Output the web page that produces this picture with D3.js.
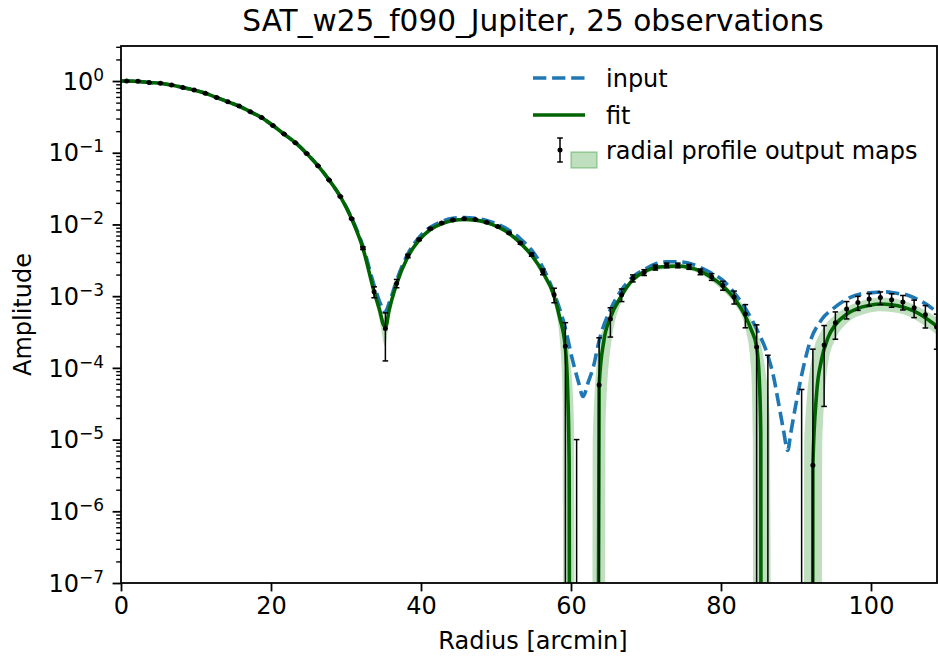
<!DOCTYPE html>
<html>
<head>
<meta charset="utf-8">
<script src="https://cdn.jsdelivr.net/npm/d3@7"></script>
<style>
  body { margin: 0; background: #fff; }
  text { font-family: "DejaVu Sans", sans-serif; fill: #000; }
</style>
</head>
<body>
<div id="chart"></div>
<script>
// radial profile points (mean of output maps) and their error
const dataR = [0.75, 2.25, 3.75, 5.25, 6.75, 8.25, 9.75, 11.25, 12.75, 14.25, 15.75, 17.25, 18.75, 20.25, 21.75, 23.25, 24.75, 26.25, 27.75, 29.25, 30.75, 32.25, 33.75, 35.25, 36.75, 38.25, 39.75, 41.25, 42.75, 44.25, 45.75, 47.25, 48.75, 50.25, 51.75, 53.25, 54.75, 56.25, 57.75, 59.25, 60.75, 62.25, 63.75, 65.25, 66.75, 68.25, 69.75, 71.25, 72.75, 74.25, 75.75, 77.25, 78.75, 80.25, 81.75, 83.25, 84.75, 86.25, 87.75, 89.25, 90.75, 92.25, 93.75, 95.25, 96.75, 98.25, 99.75, 101.25, 102.75, 104.25, 105.75, 107.25, 108.75];
const dataA = [1.0, 0.99, 0.955, 0.933, 0.879, 0.813, 0.750, 0.676, 0.589, 0.513, 0.447, 0.372, 0.309, 0.240, 0.182, 0.138, 0.0977, 0.0661, 0.0417, 0.0245, 0.0120, 4.68e-3, 1.15e-3, 3.55e-4, 1.51e-3, 3.63e-3, 6.17e-3, 8.71e-3, 1.05e-2, 1.15e-2, 1.20e-2, 1.17e-2, 1.07e-2, 9.33e-3, 7.59e-3, 5.50e-3, 3.80e-3, 2.19e-3, 1.05e-3, 2.0e-4, -1.9e-4, -3.0e-4, 5.75e-5, 4.79e-4, 1.05e-3, 1.78e-3, 2.14e-3, 2.51e-3, 2.69e-3, 2.69e-3, 2.57e-3, 2.19e-3, 1.86e-3, 1.41e-3, 9.77e-4, 5.62e-4, 1.95e-4, -5.0e-5, -3.0e-4, -3.0e-4, -1.5e-4, 4.4e-6, 2.09e-4, 4.27e-4, 6.61e-4, 8.13e-4, 9.12e-4, 9.55e-4, 8.91e-4, 8.32e-4, 6.92e-4, 5.50e-4, 3.72e-4];
const dataErr = [2e-4, 2e-4, 2e-4, 2e-4, 2e-4, 2e-4, 2e-4, 2e-4, 2e-4, 2e-4, 2e-4, 2e-4, 2e-4, 2e-4, 2e-4, 2e-4, 2e-4, 2e-4, 2e-4, 2e-4, 2e-4, 2e-4, 2e-4, 2.3e-4, 2e-4, 2e-4, 2e-4, 2e-4, 2e-4, 2e-4, 2e-4, 2e-4, 2e-4, 2e-4, 2e-4, 2e-4, 2e-4, 2e-4, 2.4e-4, 2.27e-4, 2.0e-4, 2.0e-4, 2.05e-4, 2.1e-4, 2.1e-4, 2e-4, 2e-4, 2e-4, 2e-4, 2e-4, 2e-4, 2e-4, 2e-4, 2e-4, 2e-4, 2.0e-4, 2.03e-4, 2.0e-4, 2.0e-4, 2.0e-4, 2.0e-4, 1.78e-4, 1.8e-4, 1.76e-4, 1.8e-4, 1.8e-4, 1.8e-4, 1.9e-4, 1.9e-4, 1.9e-4, 1.9e-4, 1.9e-4, 1.9e-4];

// input beam profile
const inputR = [0, 0.75, 2.25, 3.75, 5.25, 6.75, 8.25, 9.75, 11.25, 12.75, 14.25, 15.75, 17.25, 18.75, 20.25, 21.75, 23.25, 24.75, 26.25, 27.75, 29.25, 30.75, 32.25, 33.75, 34.5, 35.2, 35.8, 36.75, 38.25, 39.75, 41.25, 42.75, 44.25, 45.75, 47.25, 48.75, 50.25, 51.75, 53.25, 54.75, 56.25, 57.75, 59.25, 60.2, 61.0, 61.6, 62.3, 63.0, 63.75, 65.25, 66.75, 68.25, 69.75, 71.25, 72.75, 74.25, 75.75, 77.25, 78.75, 80.25, 81.75, 83.25, 84.75, 86.25, 87.0, 87.6, 88.3, 88.9, 89.3, 90.0, 90.9, 91.8, 93.4, 95.0, 97.0, 98.6, 100.2, 101.8, 103.4, 104.7, 106.3, 107.9, 109.2];
const inputA = [1.0, 1.0, 0.99, 0.955, 0.933, 0.879, 0.813, 0.750, 0.676, 0.589, 0.513, 0.447, 0.372, 0.309, 0.240, 0.182, 0.138, 0.0977, 0.0661, 0.0417, 0.0245, 0.0123, 5.01e-3, 1.41e-3, 8.32e-4, 6.03e-4, 8.32e-4, 1.66e-3, 3.89e-3, 6.61e-3, 9.12e-3, 1.10e-2, 1.22e-2, 1.245e-2, 1.22e-2, 1.135e-2, 1.0e-2, 8.32e-3, 6.31e-3, 4.37e-3, 2.51e-3, 1.10e-3, 3.55e-4, 1.29e-4, 6.31e-5, 3.98e-5, 6.31e-5, 1.05e-4, 2.40e-4, 6.46e-4, 1.23e-3, 1.86e-3, 2.34e-3, 2.82e-3, 3.02e-3, 3.02e-3, 2.88e-3, 2.51e-3, 2.09e-3, 1.66e-3, 1.12e-3, 6.76e-4, 3.47e-4, 1.48e-4, 7.59e-5, 3.55e-5, 1.41e-5, 7.08e-6, 1.23e-5, 3.16e-5, 9.33e-5, 2.19e-4, 4.68e-4, 6.76e-4, 9.33e-4, 1.07e-3, 1.12e-3, 1.15e-3, 1.10e-3, 1.05e-3, 8.91e-4, 7.08e-4, 5.50e-4];

// fitted profile (0 = non-positive)
const fitR = [0, 0.75, 2.25, 3.75, 5.25, 6.75, 8.25, 9.75, 11.25, 12.75, 14.25, 15.75, 17.25, 18.75, 20.25, 21.75, 23.25, 24.75, 26.25, 27.75, 29.25, 30.75, 32.25, 33.75, 34.5, 35.0, 35.3, 35.7, 36.75, 38.25, 39.75, 41.25, 42.75, 44.25, 45.75, 47.25, 48.75, 50.25, 51.75, 53.25, 54.75, 56.25, 57.75, 58.5, 59.25, 59.55, 59.75, 59.85, 63.55, 63.75, 64.4, 65.25, 66.75, 68.25, 69.75, 71.25, 72.75, 74.25, 75.75, 77.25, 78.75, 80.25, 81.75, 83.25, 84.0, 84.75, 85.1, 85.3, 85.36, 92.2, 92.25, 92.75, 93.4, 94.3, 95.25, 96.75, 98.25, 99.75, 101.25, 102.75, 104.25, 105.75, 107.25, 108.8];
const fitA = [1.0, 1.0, 0.99, 0.955, 0.933, 0.879, 0.813, 0.750, 0.676, 0.589, 0.513, 0.447, 0.372, 0.309, 0.240, 0.182, 0.138, 0.0977, 0.0661, 0.0417, 0.0245, 0.0120, 4.68e-3, 1.15e-3, 6.31e-4, 3.98e-4, 3.72e-4, 6.03e-4, 1.48e-3, 3.55e-3, 6.03e-3, 8.51e-3, 1.02e-2, 1.135e-2, 1.17e-2, 1.15e-2, 1.06e-2, 9.23e-3, 7.5e-3, 5.5e-3, 3.72e-3, 2.14e-3, 1.0e-3, 5.0e-4, 1.9e-4, 5.0e-5, 5.0e-6, 0, 0, 5.75e-5, 2.45e-4, 5.0e-4, 1.02e-3, 1.70e-3, 2.19e-3, 2.51e-3, 2.60e-3, 2.63e-3, 2.51e-3, 2.24e-3, 1.82e-3, 1.38e-3, 9.33e-4, 5.25e-4, 3.47e-4, 1.95e-4, 7.1e-5, 1.26e-5, 0, 0, 4.4e-6, 4.4e-5, 1.29e-4, 2.69e-4, 4.0e-4, 5.6e-4, 6.76e-4, 7.41e-4, 7.76e-4, 7.59e-4, 7.08e-4, 6.17e-4, 5.01e-4, 3.80e-4];

// spread of the output maps (shaded band)
const bandR = [0, 0.75, 2.25, 3.75, 5.25, 6.75, 8.25, 9.75, 11.25, 12.75, 14.25, 15.75, 17.25, 18.75, 20.25, 21.75, 23.25, 24.75, 26.25, 27.75, 29.25, 30.75, 32.25, 33.75, 34.5, 35.2, 35.7, 36.75, 38.25, 39.75, 41.25, 42.75, 44.25, 45.75, 47.25, 48.75, 50.25, 51.75, 53.25, 54.75, 56.25, 57.75, 58.5, 58.9, 59.0, 59.25, 60.0, 60.4, 60.6, 62.8, 62.9, 63.75, 64.5, 64.6, 65.25, 66.75, 68.25, 69.75, 71.25, 72.75, 74.25, 75.75, 77.25, 78.75, 80.25, 81.75, 83.25, 84.0, 84.25, 84.3, 84.75, 85.8, 86.5, 86.8, 91.0, 91.1, 92.25, 93.4, 93.5, 94.3, 95.25, 96.75, 98.25, 99.75, 101.25, 102.75, 104.25, 105.75, 107.25, 108.8];
const bandLo = [0.98, 0.98, 0.97, 0.935, 0.915, 0.86, 0.795, 0.735, 0.66, 0.575, 0.50, 0.436, 0.362, 0.30, 0.233, 0.176, 0.133, 0.094, 0.0635, 0.0399, 0.0233, 0.0113, 4.35e-3, 1.02e-3, 4.47e-4, 2.0e-4, 4.47e-4, 1.30e-3, 3.3e-3, 5.7e-3, 8.1e-3, 9.8e-3, 1.09e-2, 1.12e-2, 1.10e-2, 1.01e-2, 8.75e-3, 7.05e-3, 5.1e-3, 3.35e-3, 1.85e-3, 7.94e-4, 2.5e-4, 3.2e-5, 0, 0, 0, 0, 0, 0, 0, 0, 0, 1.5e-5, 1.8e-4, 8.5e-4, 1.52e-3, 2.0e-3, 2.3e-3, 2.40e-3, 2.42e-3, 2.3e-3, 2.03e-3, 1.62e-3, 1.18e-3, 7.94e-4, 3.55e-4, 1.0e-4, 1.0e-5, 0, 0, 0, 0, 0, 0, 0, 0, 0, 1.0e-5, 1.2e-4, 2.5e-4, 4.17e-4, 5.25e-4, 5.89e-4, 6.17e-4, 6.03e-4, 5.62e-4, 4.79e-4, 3.8e-4, 2.9e-4];
const bandHi = [1.02, 1.02, 1.01, 0.975, 0.95, 0.9, 0.83, 0.765, 0.69, 0.6, 0.525, 0.457, 0.38, 0.316, 0.246, 0.187, 0.142, 0.101, 0.0685, 0.0433, 0.0256, 0.0126, 4.95e-3, 1.24e-3, 7.4e-4, 4.6e-4, 7.1e-4, 1.62e-3, 3.75e-3, 6.3e-3, 8.85e-3, 1.06e-2, 1.175e-2, 1.21e-2, 1.19e-2, 1.10e-2, 9.6e-3, 7.85e-3, 5.85e-3, 4.0e-3, 2.38e-3, 1.12e-3, 6.0e-4, 4.2e-4, 3.8e-4, 3.16e-4, 1.0e-4, 1.6e-5, 0, 0, 1.0e-5, 2.2e-4, 4.0e-4, 4.3e-4, 6.0e-4, 1.12e-3, 1.82e-3, 2.33e-3, 2.65e-3, 2.75e-3, 2.78e-3, 2.67e-3, 2.40e-3, 1.98e-3, 1.52e-3, 1.05e-3, 6.61e-4, 4.6e-4, 3.9e-4, 3.8e-4, 3.16e-4, 1.12e-4, 2.0e-5, 0, 0, 1.0e-5, 1.6e-4, 3.3e-4, 3.45e-4, 4.5e-4, 5.5e-4, 7.08e-4, 8.32e-4, 9.12e-4, 9.55e-4, 9.33e-4, 8.71e-4, 7.59e-4, 6.31e-4, 5.01e-4];

const xTicks = [0, 20, 40, 60, 80, 100];
const yExponents = [0, -1, -2, -3, -4, -5, -6, -7];

const width = 938, height = 656;
const margin = {top: 46, right: 1, bottom: 73, left: 121};
const plotBottom = height - margin.bottom;
const plotRight = width - margin.right;

const svg = d3.select('#chart')
    .append('svg')
    .attr('width', width)
    .attr('height', height);

const x = d3.scaleLinear().domain([0, 108.8]).range([margin.left, plotRight]);
const y = d3.scaleLog().domain([1e-7, 3.08]).range([plotBottom, margin.top]);

// non-positive values fall far below the axis and get clipped
const yv = v => v > 0 ? y(v) : plotBottom + 300;

svg.append('clipPath').attr('id', 'plotClip')
    .append('rect')
    .attr('x', margin.left).attr('y', margin.top)
    .attr('width', plotRight - margin.left)
    .attr('height', plotBottom - margin.top);

const plot = svg.append('g').attr('clip-path', 'url(#plotClip)');

// shaded band
const band = d3.range(bandR.length).map(i => ({r: bandR[i], lo: bandLo[i], hi: bandHi[i]}));
plot.append('path')
    .datum(band)
    .attr('fill', 'green')
    .attr('fill-opacity', 0.25)
    .attr('d', d3.area()
        .x(d => x(d.r))
        .y0(d => yv(d.lo))
        .y1(d => yv(d.hi))
        .curve(d3.curveMonotoneX));

// input (dashed)
const input = d3.range(inputR.length).map(i => ({r: inputR[i], a: inputA[i]}));
plot.append('path')
    .datum(input)
    .attr('fill', 'none')
    .attr('stroke', '#1f77b4')
    .attr('stroke-width', 3.6)
    .attr('stroke-dasharray', '13.3,5.8')
    .attr('d', d3.line().x(d => x(d.r)).y(d => yv(d.a)).curve(d3.curveMonotoneX));

// fit (solid)
const fit = d3.range(fitR.length).map(i => ({r: fitR[i], a: fitA[i]}));
plot.append('path')
    .datum(fit)
    .attr('fill', 'none')
    .attr('stroke', 'darkgreen')
    .attr('stroke-width', 3.6)
    .attr('d', d3.line().x(d => x(d.r)).y(d => yv(d.a)).curve(d3.curveMonotoneX));

// error bars + points
const pts = d3.range(dataR.length).map(i => ({r: dataR[i], a: dataA[i], e: dataErr[i]}));
const eb = plot.append('g').attr('stroke', 'black').attr('stroke-width', 1.5);
pts.forEach(d => {
    const top = d.a + d.e, bot = d.a - d.e;
    if (top <= 0) return;
    const cx = x(d.r);
    eb.append('line').attr('x1', cx).attr('x2', cx).attr('y1', yv(bot)).attr('y2', y(top));
    eb.append('line').attr('x1', cx - 2.8).attr('x2', cx + 2.8).attr('y1', y(top)).attr('y2', y(top));
    if (bot > 0) {
        eb.append('line').attr('x1', cx - 2.8).attr('x2', cx + 2.8).attr('y1', y(bot)).attr('y2', y(bot));
    }
});
plot.append('g').selectAll('circle')
    .data(pts.filter(d => d.a > 0))
    .enter().append('circle')
    .attr('cx', d => x(d.r))
    .attr('cy', d => y(d.a))
    .attr('r', 2.5)
    .attr('fill', 'black');

// axes
const xAxis = svg.append('g')
    .attr('transform', `translate(0,${plotBottom})`)
    .call(d3.axisBottom(x).tickValues(xTicks).tickSize(8.4).tickPadding(6).tickSizeOuter(0));
xAxis.select('.domain').remove();
xAxis.selectAll('line').attr('stroke', 'black').attr('stroke-width', 1.8);
xAxis.selectAll('text').attr('font-size', 24).attr('font-family', '"DejaVu Sans", sans-serif');

const yMajor = yExponents.map(p => Math.pow(10, p));
const yMinor = [];
for (let p = -7; p <= 0; p++) {
    for (let k = 2; k <= 9; k++) {
        const v = k * Math.pow(10, p);
        if (v <= 3.08) yMinor.push(v);
    }
}
const yAxis = svg.append('g')
    .attr('transform', `translate(${margin.left},0)`)
    .call(d3.axisLeft(y).tickValues(yMajor).tickSize(8.4).tickFormat('').tickSizeOuter(0));
yAxis.select('.domain').remove();
yAxis.selectAll('line').attr('stroke', 'black').attr('stroke-width', 1.8);
const yAxisMinor = svg.append('g')
    .attr('transform', `translate(${margin.left},0)`)
    .call(d3.axisLeft(y).tickValues(yMinor).tickSize(4.8).tickFormat('').tickSizeOuter(0));
yAxisMinor.select('.domain').remove();
yAxisMinor.selectAll('line').attr('stroke', 'black').attr('stroke-width', 1.4);

yExponents.forEach(p => {
    const t = svg.append('text')
        .attr('x', 104)
        .attr('y', y(Math.pow(10, p)) + 8.7)
        .attr('text-anchor', 'end')
        .attr('font-size', 24);
    t.append('tspan').text('10');
    t.append('tspan').attr('dy', -9).attr('font-size', 17)
        .text(p === 0 ? '0' : '\u2212' + Math.abs(p));
});

// frame
svg.append('rect')
    .attr('x', margin.left).attr('y', margin.top)
    .attr('width', plotRight - margin.left)
    .attr('height', plotBottom - margin.top)
    .attr('fill', 'none')
    .attr('stroke', 'black')
    .attr('stroke-width', 1.8);

// labels
svg.append('text')
    .attr('x', 533)
    .attr('y', 31)
    .attr('text-anchor', 'middle')
    .attr('font-size', 29.6)
    .text('SAT_w25_f090_Jupiter, 25 observations');

svg.append('text')
    .attr('x', (margin.left + plotRight) / 2 + 4)
    .attr('y', 649)
    .attr('text-anchor', 'middle')
    .attr('font-size', 24)
    .text('Radius [arcmin]');

svg.append('text')
    .attr('transform', 'rotate(-90)')
    .attr('x', -(margin.top + plotBottom) / 2)
    .attr('y', 31)
    .attr('text-anchor', 'middle')
    .attr('font-size', 24)
    .text('Amplitude');

// legend
const lg = svg.append('g');
lg.append('line').attr('x1', 533).attr('x2', 585).attr('y1', 78).attr('y2', 78)
    .attr('stroke', '#1f77b4').attr('stroke-width', 3.6).attr('stroke-dasharray', '13.3,5.8');
lg.append('text').attr('x', 606).attr('y', 87).attr('font-size', 24).text('input');

lg.append('line').attr('x1', 533).attr('x2', 585).attr('y1', 115).attr('y2', 115)
    .attr('stroke', 'darkgreen').attr('stroke-width', 3.6);
lg.append('text').attr('x', 606).attr('y', 124).attr('font-size', 24).text('fit');

lg.append('rect').attr('x', 571).attr('y', 152).attr('width', 26).attr('height', 16)
    .attr('fill', 'green').attr('fill-opacity', 0.25)
    .attr('stroke', 'green').attr('stroke-opacity', 0.3).attr('stroke-width', 1.5);
const le = lg.append('g').attr('stroke', 'black').attr('stroke-width', 1.5);
le.append('line').attr('x1', 560).attr('x2', 560).attr('y1', 138).attr('y2', 162);
le.append('line').attr('x1', 557.2).attr('x2', 562.8).attr('y1', 138).attr('y2', 138);
le.append('line').attr('x1', 557.2).attr('x2', 562.8).attr('y1', 162).attr('y2', 162);
lg.append('circle').attr('cx', 560).attr('cy', 150).attr('r', 2.5).attr('fill', 'black');
lg.append('text').attr('x', 606).attr('y', 159).attr('font-size', 24).text('radial profile output maps');
</script>
</body>
</html>
